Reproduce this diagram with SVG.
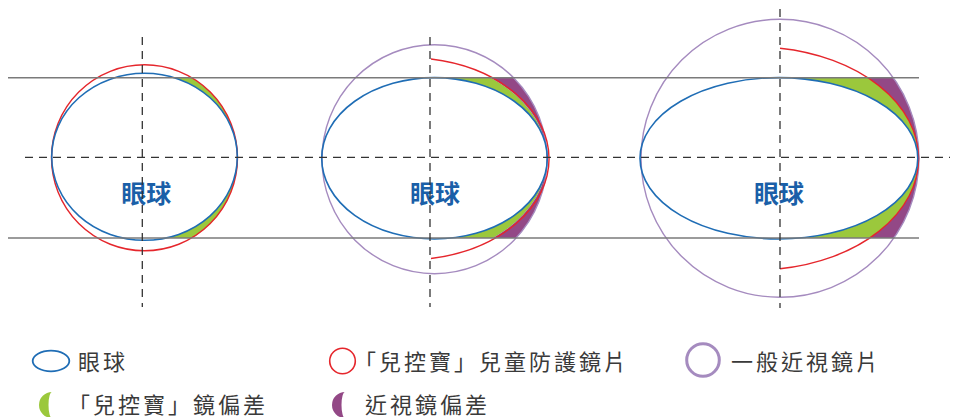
<svg xmlns="http://www.w3.org/2000/svg" width="957" height="417" viewBox="0 0 957 417">
<style>
.eye{fill:none;stroke:#1f6db5;stroke-width:1.6}
.red{fill:none;stroke:#e5262c;stroke-width:1.4}
.pur{fill:none;stroke:#a58bbf;stroke-width:1.4}
.gfill{fill:#9bc83c}
.pfill{fill:#934886}
.band{stroke:#7a7a7a;stroke-width:1.5}
.dash{stroke:#333;stroke-width:1.3;stroke-dasharray:8 6;fill:none}
.lbl{font-family:"Noto Sans CJK TC","Noto Sans CJK SC",sans-serif;font-weight:700;font-size:25px;fill:#1a5fa8;text-anchor:middle}
.leg{font-family:"Noto Sans CJK TC","Noto Sans CJK SC",sans-serif;font-size:22px;letter-spacing:3px;fill:#3a3a3a}
</style>
<defs>
<clipPath id="c1"><rect x="144.5" y="77.7" width="110" height="160.2"/></clipPath>
<clipPath id="c2"><rect x="434.5" y="77.7" width="130" height="160.2"/></clipPath>
<clipPath id="c3"><rect x="779" y="77.7" width="150" height="160.2"/></clipPath>
<mask id="m1"><rect width="957" height="417" fill="#fff"/><ellipse cx="144.5" cy="156.8" rx="92.8" ry="83.5" fill="#000"/></mask>
<mask id="m2g"><rect width="957" height="417" fill="#fff"/><ellipse cx="434.5" cy="158.3" rx="112.8" ry="80.7" fill="#000"/></mask>
<mask id="m2p"><rect width="957" height="417" fill="#fff"/><ellipse cx="405" cy="158.5" rx="142" ry="101.2" fill="#000"/></mask>
<mask id="m3g"><rect width="957" height="417" fill="#fff"/><ellipse cx="778.9" cy="158.3" rx="138.9" ry="80.7" fill="#000"/></mask>
<mask id="m3p"><rect width="957" height="417" fill="#fff"/><ellipse cx="755" cy="158.5" rx="163.5" ry="111.5" fill="#000"/></mask>
</defs>

<g id="eye1">
<circle class="gfill" cx="144.5" cy="157.8" r="93" clip-path="url(#c1)" mask="url(#m1)"/>
<circle class="red" cx="144.5" cy="157.8" r="93"/>
<ellipse class="eye" cx="144.5" cy="156.8" rx="92.8" ry="83.5"/>
<text class="lbl" x="146.2" y="202.5">眼球</text>
</g>

<g id="eye2">
<ellipse class="gfill" cx="405" cy="158.5" rx="142" ry="101.2" clip-path="url(#c2)" mask="url(#m2g)"/>
<ellipse class="pfill" cx="434.5" cy="159.2" rx="112.5" ry="114.5" clip-path="url(#c2)" mask="url(#m2p)"/>
<ellipse class="pur" cx="434.5" cy="159.2" rx="112.5" ry="114.5"/>
<path class="red" d="M431,59 A142,101.2 0 0 1 431,258.5"/>
<ellipse class="eye" cx="434.5" cy="158.3" rx="112.8" ry="80.7"/>
<text class="lbl" x="435" y="202.5">眼球</text>
</g>

<g id="eye3">
<ellipse class="gfill" cx="755" cy="158.5" rx="163.5" ry="111.5" clip-path="url(#c3)" mask="url(#m3g)"/>
<circle class="pfill" cx="780" cy="158.3" r="139" clip-path="url(#c3)" mask="url(#m3p)"/>
<circle class="pur" cx="780" cy="158.3" r="139"/>
<path class="red" d="M780,48.3 A163.5,111.5 0 0 1 780,268.7"/>
<ellipse class="eye" cx="778.9" cy="158.3" rx="138.9" ry="80.7"/>
<text class="lbl" x="779" y="202.5">眼球</text>
</g>

<g id="connectors">
<line class="band" x1="8" y1="77.7" x2="919" y2="77.7"/>
<line class="band" x1="8" y1="237.9" x2="919" y2="237.9"/>
<line class="dash" x1="25" y1="157.3" x2="950" y2="157.3"/>
<line class="dash" x1="142.3" y1="37" x2="142.3" y2="307"/>
<line class="dash" x1="430" y1="37" x2="430" y2="307"/>
<line class="dash" x1="780" y1="9" x2="780" y2="308"/>
</g>

<g id="legend">
<ellipse cx="51" cy="361" rx="18.3" ry="10.3" fill="none" stroke="#1f6db5" stroke-width="1.8"/>
<text class="leg" x="78" y="370">眼球</text>
<circle cx="342.5" cy="361" r="12.8" fill="none" stroke="#e5262c" stroke-width="1.6"/>
<text class="leg" x="354" y="370">「兒控寶」兒童防護鏡片</text>
<circle cx="703" cy="360" r="16.3" fill="none" stroke="#a58bbf" stroke-width="3"/>
<text class="leg" x="731" y="370">一般近視鏡片</text>
<path d="M52,392 A13,13 0 0 0 52,418 A3.5,13 0 0 1 52,392 Z" fill="#9bc83c"/>
<text class="leg" x="68" y="413">「兒控寶」鏡偏差</text>
<path d="M345,392 A13,13 0 0 0 345,418 A3.5,13 0 0 1 345,392 Z" fill="#934886"/>
<text class="leg" x="365" y="413">近視鏡偏差</text>
</g>
</svg>
